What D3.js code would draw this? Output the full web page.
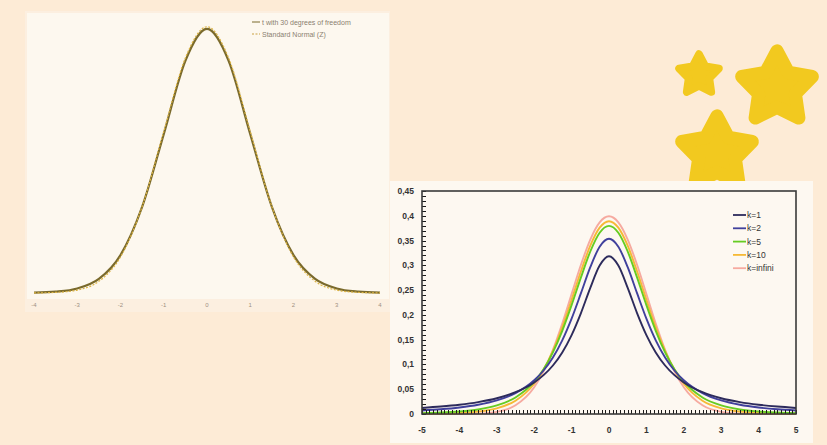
<!DOCTYPE html>
<html>
<head>
<meta charset="utf-8">
<script src="https://cdn.jsdelivr.net/npm/d3@7"></script>
<style>
  body { margin: 0; background: #fdebd6; }
  svg { display: block; }
</style>
</head>
<body>
<div id="wrap"></div>
<script>
// left chart: t(30) vs standard normal
var leftX = [-4,-3.5,-3,-2.5,-2,-1.5,-1,-0.5,0,0.5,1,1.5,2,2.5,3,3.5,4];
var leftT30 = [0.0005,0.0020,0.0068,0.0211,0.0568,0.1290,0.2380,0.3478,0.3956,0.3478,0.2380,0.1290,0.0568,0.0211,0.0068,0.0020,0.0005];
var leftNormal = [0.0001,0.0009,0.0044,0.0175,0.0540,0.1295,0.2420,0.3521,0.3989,0.3521,0.2420,0.1295,0.0540,0.0175,0.0044,0.0009,0.0001];
var leftTicks = [-4,-3,-2,-1,0,1,2,3,4];
var leftLegend = ["t with 30 degrees of freedom", "Standard Normal (Z)"];

// right chart: student t for several k
var rightX = [-5,-4.5,-4,-3.5,-3,-2.5,-2,-1.75,-1.5,-1.25,-1,-0.75,-0.5,-0.25,0,0.25,0.5,0.75,1,1.25,1.5,1.75,2,2.5,3,3.5,4,4.5,5];
var k1 = [0.0122,0.0150,0.0187,0.0240,0.0318,0.0439,0.0637,0.0784,0.0979,0.1242,0.1592,0.2037,0.2546,0.2996,0.3183,0.2996,0.2546,0.2037,0.1592,0.1242,0.0979,0.0784,0.0637,0.0439,0.0318,0.0240,0.0187,0.0150,0.0122];
var k2 = [0.0071,0.0095,0.0131,0.0186,0.0274,0.0422,0.0680,0.0878,0.1141,0.1487,0.1925,0.2438,0.2963,0.3376,0.3536,0.3376,0.2963,0.2438,0.1925,0.1487,0.1141,0.0878,0.0680,0.0422,0.0274,0.0186,0.0131,0.0095,0.0071];
var k5 = [0.0018,0.0029,0.0051,0.0092,0.0173,0.0333,0.0651,0.0905,0.1245,0.1679,0.2197,0.2757,0.3279,0.3657,0.3796,0.3657,0.3279,0.2757,0.2197,0.1679,0.1245,0.0905,0.0651,0.0333,0.0173,0.0092,0.0051,0.0029,0.0018];
var k10 = [0.0004,0.0009,0.0020,0.0048,0.0114,0.0269,0.0611,0.0895,0.1275,0.1751,0.2304,0.2880,0.3397,0.3760,0.3891,0.3760,0.3397,0.2880,0.2304,0.1751,0.1275,0.0895,0.0611,0.0269,0.0114,0.0048,0.0020,0.0009,0.0004];
var kInf = [0.0000,0.0000,0.0001,0.0009,0.0044,0.0175,0.0540,0.0863,0.1295,0.1826,0.2420,0.3011,0.3521,0.3867,0.3989,0.3867,0.3521,0.3011,0.2420,0.1826,0.1295,0.0863,0.0540,0.0175,0.0044,0.0009,0.0001,0.0000,0.0000];
var seriesNames = ["k=1", "k=2", "k=5", "k=10", "k=infini"];
var rightXTicks = [-5,-4,-3,-2,-1,0,1,2,3,4,5];
var rightYTicks = [0,0.05,0.1,0.15,0.2,0.25,0.3,0.35,0.4,0.45];

var W = 827, H = 445;
var svg = d3.select("#wrap").append("svg")
    .attr("width", W)
    .attr("height", H);

svg.append("rect").attr("width", W).attr("height", H).attr("fill", "#fdebd6");

// stars (decoration)
var starColor = "#f2c91f";
function star(cx, cy, R){
    var pts = [];
    for (var i = 0; i < 10; i++) {
        pts.push([i * Math.PI / 5, i % 2 === 0 ? R : R * 0.52]);
    }
    svg.append("path")
        .attr("transform", "translate(" + cx + "," + cy + ")")
        .attr("d", d3.lineRadial().curve(d3.curveLinearClosed)(pts))
        .attr("fill", starColor)
        .attr("stroke", starColor)
        .attr("stroke-width", R * 0.36)
        .attr("stroke-linejoin", "round");
}
star(699, 75, 21);
star(777, 88, 37);
star(717, 153, 37);

// ---------- left panel ----------
var left = svg.append("g");
left.append("rect")
    .attr("x", 25).attr("y", 11).attr("width", 365).attr("height", 301)
    .attr("fill", "#fcefe0");
left.append("rect")
    .attr("x", 27).attr("y", 13).attr("width", 362).attr("height", 286)
    .attr("fill", "#fdf8ef");

var lx = d3.scaleLinear().domain([-4, 4]).range([34, 380]);
var ly = d3.scaleLinear().domain([0, 0.4]).range([293, 26]);

var lline = d3.line()
    .x(function(d, i){ return lx(leftX[i]); })
    .y(function(d){ return ly(d); })
    .curve(d3.curveMonotoneX);

left.append("path")
    .attr("d", lline(leftT30))
    .attr("fill", "none")
    .attr("stroke", "#7a6a2c")
    .attr("stroke-width", 2.2);
left.append("path")
    .attr("d", lline(leftNormal))
    .attr("fill", "none")
    .attr("stroke", "#dcb444")
    .attr("stroke-width", 1.2)
    .attr("stroke-dasharray", "2,1.5");

left.selectAll(".ltick")
    .data(leftTicks)
    .enter()
    .append("text")
    .attr("x", function(d){ return lx(d); })
    .attr("y", 307)
    .attr("text-anchor", "middle")
    .style("font-family", "Liberation Sans, Arial, sans-serif")
    .style("font-size", "6px")
    .style("fill", "#a09080")
    .text(function(d){ return d; });

var lleg = left.append("g").attr("transform", "translate(252,22)");
lleg.selectAll("line")
    .data(leftLegend)
    .enter()
    .append("line")
    .attr("x1", 0).attr("x2", 8)
    .attr("y1", function(d, i){ return i * 12; })
    .attr("y2", function(d, i){ return i * 12; })
    .attr("stroke", function(d, i){ return i === 0 ? "#7a6a2c" : "#c9a040"; })
    .attr("stroke-dasharray", function(d, i){ return i === 0 ? null : "2,1.5"; })
    .attr("stroke-width", 1);
lleg.selectAll("text")
    .data(leftLegend)
    .enter()
    .append("text")
    .attr("x", 10)
    .attr("y", function(d, i){ return i * 12 + 2.5; })
    .style("font-family", "Liberation Sans, Arial, sans-serif")
    .style("font-size", "7px")
    .style("fill", "#8a8070")
    .text(function(d){ return d; });

// ---------- right panel ----------
var right = svg.append("g");
right.append("rect")
    .attr("x", 390).attr("y", 181).attr("width", 423).attr("height", 262)
    .attr("fill", "#fdf8f1");

var rx = d3.scaleLinear().domain([-5, 5]).range([422, 796]);
var ry = d3.scaleLinear().domain([0, 0.45]).range([414, 191]);

var colors = ["#2d2b5c", "#40409c", "#66cc22", "#f6b935", "#f6aaa0"];
var allSeries = [k1, k2, k5, k10, kInf];

var rline = d3.line()
    .x(function(d, i){ return rx(rightX[i]); })
    .y(function(d){ return ry(d); })
    .curve(d3.curveMonotoneX);

// draw back to front: infini first so k=1 sits on top
for (var s = allSeries.length - 1; s >= 0; s--) {
    right.append("path")
        .attr("d", rline(allSeries[s]))
        .attr("fill", "none")
        .attr("stroke", colors[s])
        .attr("stroke-width", 1.9);
}

// minor ticks, drawn on top of the curves
var xMinor = d3.range(-50, 51).map(function(d){ return d / 10; });
var yMinor = d3.range(0, 46).map(function(d){ return d / 100; });
right.selectAll(".xminor")
    .data(xMinor)
    .enter()
    .append("line")
    .attr("x1", function(d){ return Math.round(rx(d)) + 0.5; })
    .attr("x2", function(d){ return Math.round(rx(d)) + 0.5; })
    .attr("y1", ry(0))
    .attr("y2", ry(0) - 4)
    .attr("stroke", "#1a1a1a")
    .attr("stroke-width", 1);
right.selectAll(".yminor")
    .data(yMinor)
    .enter()
    .append("line")
    .attr("y1", function(d){ return Math.round(ry(d)) + 0.5; })
    .attr("y2", function(d){ return Math.round(ry(d)) + 0.5; })
    .attr("x1", rx(-5))
    .attr("x2", rx(-5) + 4)
    .attr("stroke", "#1a1a1a")
    .attr("stroke-width", 1);

// frame
right.append("rect")
    .attr("x", rx(-5)).attr("y", ry(0.45))
    .attr("width", rx(5) - rx(-5)).attr("height", ry(0) - ry(0.45))
    .attr("fill", "none")
    .attr("stroke", "#3a3a3a")
    .attr("stroke-width", 1.6);

var fmt = function(d){ return String(+d.toFixed(2)).replace(".", ","); };

right.selectAll(".xlab")
    .data(rightXTicks)
    .enter()
    .append("text")
    .attr("x", function(d){ return rx(d); })
    .attr("y", 433)
    .attr("text-anchor", "middle")
    .style("font-family", "Liberation Sans, Arial, sans-serif")
    .style("font-size", "8.5px")
    .style("font-weight", "bold")
    .style("fill", "#333")
    .text(function(d){ return d; });

right.selectAll(".ylab")
    .data(rightYTicks)
    .enter()
    .append("text")
    .attr("x", 414)
    .attr("y", function(d){ return ry(d) + 3; })
    .attr("text-anchor", "end")
    .style("font-family", "Liberation Sans, Arial, sans-serif")
    .style("font-size", "8.5px")
    .style("font-weight", "bold")
    .style("fill", "#333")
    .text(fmt);

var rleg = right.append("g").attr("transform", "translate(733,215)");
rleg.selectAll("line")
    .data(seriesNames)
    .enter()
    .append("line")
    .attr("x1", 0).attr("x2", 13)
    .attr("y1", function(d, i){ return i * 13.3; })
    .attr("y2", function(d, i){ return i * 13.3; })
    .attr("stroke", function(d, i){ return colors[i]; })
    .attr("stroke-width", 1.8);
rleg.selectAll("text")
    .data(seriesNames)
    .enter()
    .append("text")
    .attr("x", 14)
    .attr("y", function(d, i){ return i * 13.3 + 3; })
    .style("font-family", "Liberation Sans, Arial, sans-serif")
    .style("font-size", "8.5px")
    .style("fill", "#333")
    .text(function(d){ return d; });
</script>
</body>
</html>
